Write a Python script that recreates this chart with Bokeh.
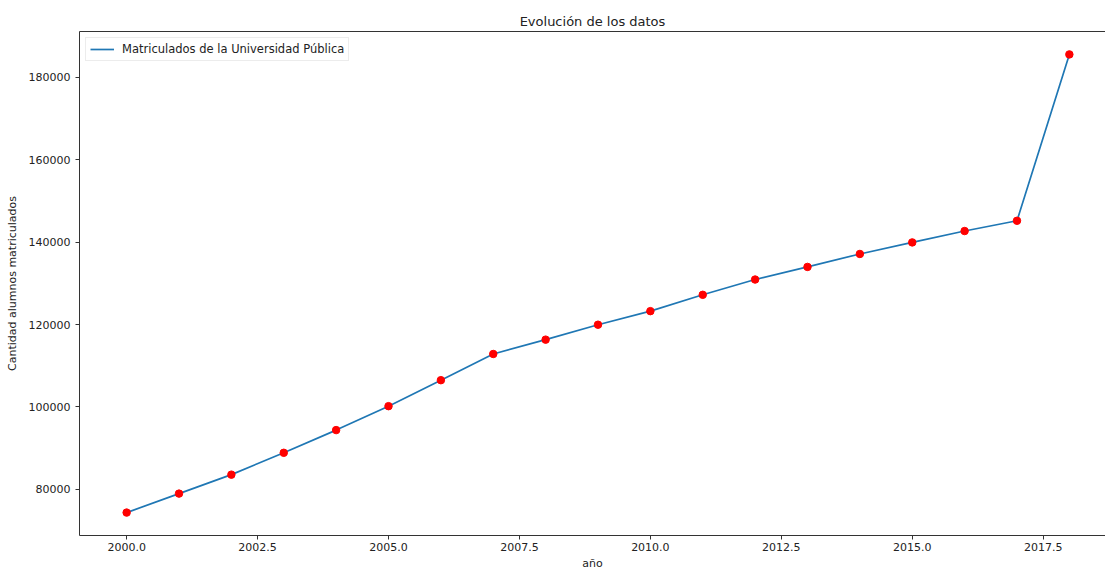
from bokeh.plotting import figure
from bokeh.models import (ColumnDataSource, Range1d, SingleIntervalTicker, LinearAxis,
                          FixedTicker, NumeralTickFormatter, BasicTickFormatter,
                          Legend, LegendItem)
from bokeh.embed import file_html
from bokeh.resources import INLINE

# Enrolment of the public university by year
anios = [2000, 2001, 2002, 2003, 2004, 2005, 2006, 2007, 2008, 2009,
         2010, 2011, 2012, 2013, 2014, 2015, 2016, 2017, 2018]
matriculados = [74400, 79000, 83600, 88900, 94400, 100200, 106500, 112850, 116330, 119950,
                123240, 127200, 130900, 133960, 137100, 139900, 142660, 145150, 185480]

titulo = "Evolución de los datos"
etiqueta_x = "año"
etiqueta_y = "Cantidad alumnos matriculados"
leyenda = "Matriculados de la Universidad Pública"

FONT = "DejaVu Sans"
TXT = "#222222"
SPINE = "#333333"

src = ColumnDataSource(dict(x=anios, y=matriculados))

# 5% padding around the data, like a default autoscaled axes
ymin, ymax = min(matriculados), max(matriculados)
ypad = (ymax - ymin) * 0.05
xpad = (max(anios) - min(anios)) * 0.05

p = figure(width=1105, height=572, output_backend="svg", toolbar_location=None,
           x_range=Range1d(min(anios) - xpad, max(anios) + xpad - 0.21),
           y_range=Range1d(ymin - ypad, ymax + ypad),
           min_border_left=79, min_border_right=0, min_border_top=31, min_border_bottom=35)

p.title.text = titulo
p.title.align = "center"
p.title.text_font = FONT
p.title.text_font_size = "13px"
p.title.text_font_style = "normal"
p.title.text_color = TXT
p.title.standoff = 6

p.outline_line_color = None
p.xgrid.visible = False
p.ygrid.visible = False
p.background_fill_color = "white"
p.border_fill_color = "white"

line = p.line("x", "y", source=src, line_color="#1f77b4", line_width=1.7)
p.scatter("x", "y", source=src, size=7.5, fill_color="#ff0000", line_color="#ff0000")

for ax in (p.xaxis[0], p.yaxis[0]):
    ax.axis_line_color = SPINE
    ax.major_tick_line_color = SPINE
    ax.major_tick_out = 4
    ax.major_tick_in = 0
    ax.minor_tick_line_color = None
    ax.major_label_text_font = FONT
    ax.major_label_text_font_size = "11px"
    ax.major_label_text_color = TXT
    ax.axis_label_text_font = FONT
    ax.axis_label_text_font_size = "11px"
    ax.axis_label_text_font_style = "normal"
    ax.axis_label_text_color = TXT

p.xaxis[0].ticker = SingleIntervalTicker(interval=2.5)
p.xaxis[0].formatter = NumeralTickFormatter(format="0.0")
p.xaxis[0].axis_label = etiqueta_x
p.xaxis[0].major_label_standoff = 3
p.xaxis[0].axis_label_standoff = 3

p.yaxis[0].ticker = SingleIntervalTicker(interval=20000)
p.yaxis[0].formatter = BasicTickFormatter(use_scientific=False)
p.yaxis[0].axis_label = etiqueta_y
p.yaxis[0].major_label_standoff = 5
p.yaxis[0].axis_label_standoff = 7

# top spine only
top = LinearAxis(ticker=FixedTicker(ticks=[]), axis_line_color=SPINE,
                 major_label_text_font_size="0px", major_label_standoff=0,
                 major_tick_out=0, major_tick_in=0, major_tick_line_color=None,
                 minor_tick_line_color=None)
p.add_layout(top, "above")

legend = Legend(items=[LegendItem(label=leyenda, renderers=[line])],
                location="top_left", margin=6, padding=4, spacing=0,
                label_text_font=FONT, label_text_font_size="11.5px", label_text_color=TXT,
                glyph_width=24, glyph_height=14, label_standoff=8, label_height=14,
                border_line_color="#d9d9d9", border_line_width=1,
                background_fill_color="white", background_fill_alpha=0.8)
p.add_layout(legend)

open("out.html", "w").write(file_html(p, INLINE))
